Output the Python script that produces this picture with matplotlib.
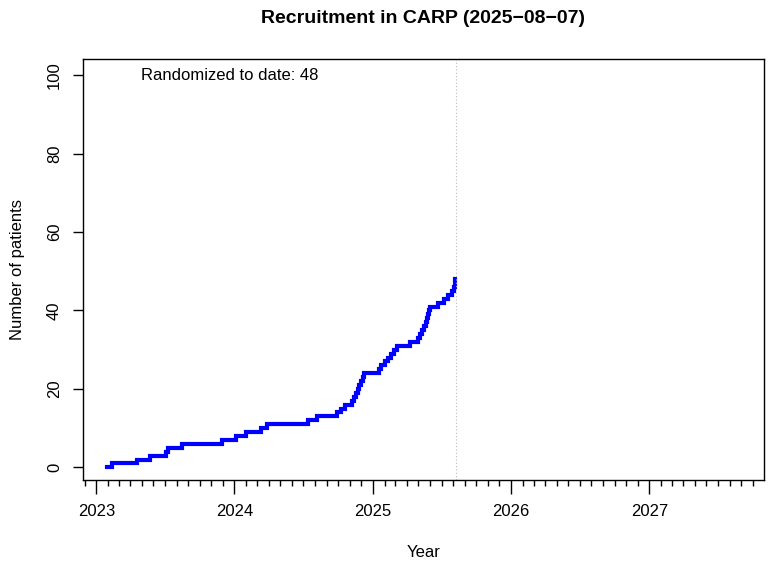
import numpy as np
import pandas as pd
import matplotlib
matplotlib.use("Agg")
import matplotlib.pyplot as plt
import matplotlib.dates as mdates

# Дата изменения счётчика рандомизированных пациентов и накопленное число
step_dates = [
    "2023-01-30", "2023-02-12", "2023-04-18", "2023-05-23", "2023-07-04",
    "2023-07-09", "2023-08-15", "2023-11-29", "2024-01-06", "2024-02-01",
    "2024-03-12", "2024-03-26", "2024-07-12", "2024-08-05", "2024-09-27",
    "2024-10-08", "2024-10-18", "2024-11-06", "2024-11-11", "2024-11-16",
    "2024-11-21", "2024-11-26", "2024-12-01", "2024-12-05", "2024-12-09",
    "2025-01-18", "2025-01-23", "2025-02-02", "2025-02-10", "2025-02-18",
    "2025-02-25", "2025-03-05", "2025-04-09", "2025-04-30", "2025-05-05",
    "2025-05-10", "2025-05-15", "2025-05-20", "2025-05-24", "2025-05-27",
    "2025-05-29", "2025-05-31", "2025-06-21", "2025-07-07", "2025-07-18",
    "2025-07-29", "2025-08-04", "2025-08-05", "2025-08-06",
]
cum_counts = list(range(0, 49))

report_date = "2025-08-07"
randomized = 48
x_start = "2022-11-26"
x_end = "2027-10-31"


def main():
    plt.rcParams["font.family"] = ["Liberation Sans", "DejaVu Sans"]

    fig = plt.figure(figsize=(7.68, 5.66), dpi=100)
    ax = fig.add_axes([0.1077, 0.152, 0.8871, 0.743])

    dates = pd.to_datetime(step_dates)
    ax.step(dates, cum_counts, where="post", color="#0000ff", lw=3,
            solid_joinstyle="miter")

    # Вертикальная линия на дату отчёта
    ax.axvline(pd.Timestamp(report_date), color="#bbbbbb", lw=0.8,
               linestyle=(0, (1, 2)))

    ax.text(pd.Timestamp("2023-04-28"), 100, f"Randomized to date: {randomized}",
            fontsize=12, ha="left", va="center")

    ax.set_xlim(pd.Timestamp(x_start), pd.Timestamp(x_end))
    ax.set_ylim(-3.2, 104)

    ax.xaxis.set_major_locator(mdates.YearLocator())
    ax.xaxis.set_major_formatter(mdates.DateFormatter("%Y"))
    ax.xaxis.set_minor_locator(mdates.MonthLocator())
    ax.set_yticks([0, 20, 40, 60, 80, 100])

    ax.tick_params(axis="x", which="major", length=10, width=1, labelsize=12, pad=7)
    ax.tick_params(axis="x", which="minor", length=4, width=1)
    ax.tick_params(axis="y", which="major", length=7, width=1, labelsize=12, pad=8)
    for lbl in ax.get_yticklabels():
        lbl.set_rotation(90)
        lbl.set_va("center")

    for sp in ax.spines.values():
        sp.set_linewidth(1)

    ax.set_xlabel("Year", fontsize=12, labelpad=19)
    ax.set_ylabel("Number of patients", fontsize=12, labelpad=16)
    ax.set_title("Recruitment in CARP (2025\u221208\u221207)", fontsize=14,
                 fontweight="bold", pad=26)

    fig.savefig("out.png", dpi=100)


if __name__ == "__main__":
    main()
